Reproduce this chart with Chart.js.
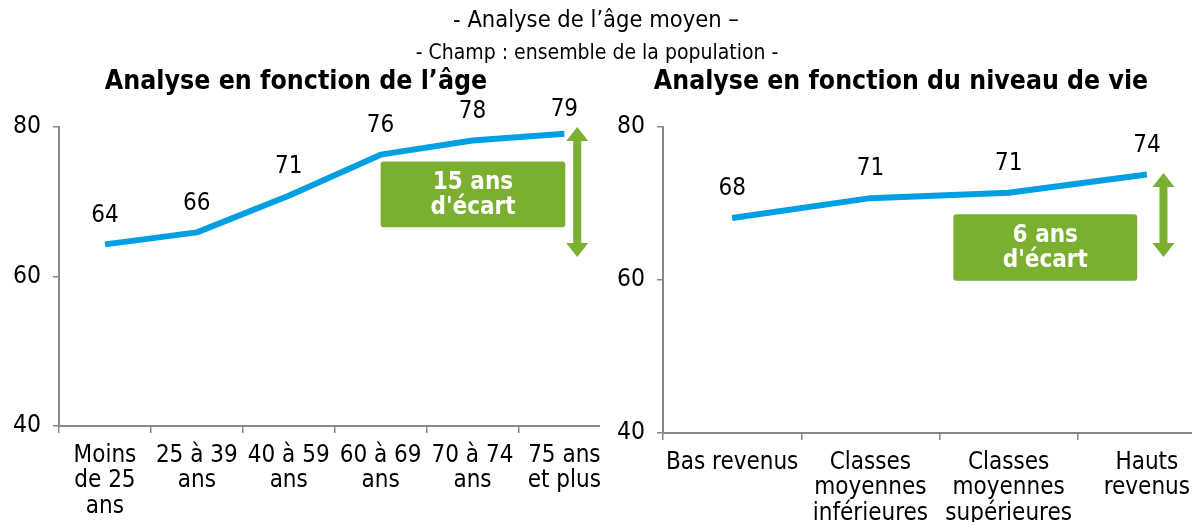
<!DOCTYPE html>
<html><head><meta charset="utf-8">
<script src="https://cdn.jsdelivr.net/npm/chart.js@4.4.0/dist/chart.umd.min.js"></script>
<style>
html,body{margin:0;padding:0;background:#fff;width:1192px;height:522px;overflow:hidden;font-family:"DejaVu Sans Condensed","DejaVu Sans",sans-serif;font-stretch:condensed;}
.t{position:absolute;white-space:nowrap;transform:translate(-50%,-50%);color:#000;z-index:2;line-height:1;}
.wrap{position:absolute;top:0;height:522px;overflow:hidden;}
canvas{display:block;}
</style></head><body>
<div class="t" style="left:596px;top:20px;font-size:23.5px">- Analyse de l’âge moyen –</div>
<div class="t" style="left:597px;top:52px;font-size:21px">- Champ : ensemble de la population -</div>
<div class="t" style="left:296px;top:80px;font-size:26.5px;font-weight:bold">Analyse en fonction de l’âge</div>
<div class="t" style="left:901px;top:80px;font-size:26.4px;font-weight:bold">Analyse en fonction du niveau de vie</div>
<div class="wrap" style="left:0;width:600px"><canvas id="c1" width="611" height="522" style="width:611px;height:522px"></canvas></div>
<div class="wrap" style="left:600px;width:592px"><canvas id="c2" width="616" height="522" style="width:616px;height:522px"></canvas></div>
<script>
// ---- data ----
const ageCategories = [["Moins","de 25","ans"],["25 à 39","ans"],["40 à 59","ans"],["60 à 69","ans"],["70 à 74","ans"],["75 ans","et plus"]];
const ageValues = [64.3, 65.9, 70.8, 76.3, 78.2, 79.1];
const incomeCategories = [["Bas revenus"],["Classes","moyennes","inférieures"],["Classes","moyennes","supérieures"],["Hauts","revenus"]];
const incomeValues = [68.1, 70.7, 71.4, 73.8];
const yTicks = [40, 60, 80];
const ageGapLabel = ["15 ans", "d'écart"];
const incomeGapLabel = ["6 ans", "d'écart"];

// ---- annotation placement (in data units) ----
const ageAnnot = {arrowX: 5.14, arrowFrom: 80.0, arrowTo: 62.6, boxX0: 3.0, boxX1: 5.01, boxY0: 75.4, boxY1: 66.6, text: ageGapLabel};
const incomeAnnot = {arrowX: 3.12, arrowFrom: 74.0, arrowTo: 63.0, boxX0: 1.6, boxX1: 2.93, boxY0: 68.6, boxY1: 59.9, text: incomeGapLabel};

const FONT = "'DejaVu Sans Condensed', 'DejaVu Sans', sans-serif";
const GREEN = '#7aaf30';

const valueLabels = {
  id: 'valueLabels',
  afterDatasetsDraw(chart) {
    const ctx = chart.ctx, ds = chart.data.datasets[0], meta = chart.getDatasetMeta(0);
    ctx.save();
    ctx.font = '24px ' + FONT;
    ctx.fillStyle = '#000';
    ctx.textAlign = 'center';
    ctx.textBaseline = 'middle';
    const minY = chart.chartArea.top - 17;
    meta.data.forEach((p, i) => ctx.fillText(String(Math.round(ds.data[i])), p.x, Math.max(p.y - 29, minY)));
    ctx.restore();
  }
};

function annotPlugin(a) {
  return {
    id: 'gapAnnot',
    afterDatasetsDraw(chart) {
      const ctx = chart.ctx, xs = chart.scales.x, ys = chart.scales.y;
      ctx.save();
      const bx0 = xs.getPixelForValue(a.boxX0), bx1 = xs.getPixelForValue(a.boxX1);
      const by0 = ys.getPixelForValue(a.boxY0), by1 = ys.getPixelForValue(a.boxY1);
      ctx.fillStyle = GREEN;
      ctx.beginPath();
      ctx.roundRect(bx0, by0, bx1 - bx0, by1 - by0, 3);
      ctx.fill();
      ctx.fillStyle = '#fff';
      ctx.font = 'bold 24px ' + FONT;
      ctx.textAlign = 'center';
      ctx.textBaseline = 'middle';
      const cx = (bx0 + bx1) / 2, cy = (by0 + by1) / 2;
      ctx.fillText(a.text[0], cx, cy - 12);
      ctx.fillText(a.text[1], cx, cy + 13);
      const x = xs.getPixelForValue(a.arrowX);
      const t = ys.getPixelForValue(a.arrowFrom), b = ys.getPixelForValue(a.arrowTo);
      const hh = 14, hw = 11, sw = 4;
      ctx.fillStyle = GREEN;
      ctx.beginPath();
      ctx.moveTo(x, t);
      ctx.lineTo(x + hw, t + hh);
      ctx.lineTo(x + sw, t + hh);
      ctx.lineTo(x + sw, b - hh);
      ctx.lineTo(x + hw, b - hh);
      ctx.lineTo(x, b);
      ctx.lineTo(x - hw, b - hh);
      ctx.lineTo(x - sw, b - hh);
      ctx.lineTo(x - sw, t + hh);
      ctx.lineTo(x - hw, t + hh);
      ctx.closePath();
      ctx.fill();
      ctx.restore();
    }
  };
}

function makeChart(id, cats, vals, cfg, annot) {
  return new Chart(document.getElementById(id), {
    type: 'line',
    data: {labels: cats, datasets: [{data: vals, borderColor: '#009fe3', borderWidth: 6, pointRadius: 0, pointHoverRadius: 0, tension: 0, fill: false, borderCapStyle: 'butt', borderJoinStyle: 'round'}]},
    options: {
      responsive: false, animation: false, devicePixelRatio: 1,
      layout: {padding: {top: cfg.top, right: 0, left: 0, bottom: 0}},
      plugins: {legend: {display: false}, tooltip: {enabled: false}, title: {display: false}},
      scales: {
        x: {
          offset: true,
          grid: {offset: true, drawOnChartArea: false, drawTicks: true, tickLength: 7, color: '#888', lineWidth: 1.5},
          border: {color: '#888', width: 2},
          ticks: {color: '#000', font: {family: FONT, size: 24, lineHeight: 1.06}, autoSkip: false, maxRotation: 0, minRotation: 0, padding: 10},
          afterFit: s => { s.height = cfg.xh; }
        },
        y: {
          min: yTicks[0], max: yTicks[yTicks.length - 1],
          afterBuildTicks: s => { s.ticks = yTicks.map(v => ({value: v})); },
          grid: {drawOnChartArea: false, drawTicks: true, tickLength: 6, color: '#888', lineWidth: 1.5},
          border: {color: '#888', width: 2},
          ticks: {color: '#000', font: {family: FONT, size: 24.5}, padding: 12},
          afterFit: s => { s.width = cfg.yw; }
        }
      }
    },
    plugins: [valueLabels, annotPlugin(annot)]
  });
}

makeChart('c1', ageCategories, ageValues, {top: 127, xh: 96, yw: 59}, ageAnnot);
makeChart('c2', incomeCategories, incomeValues, {top: 127, xh: 89, yw: 63}, incomeAnnot);
</script>
</body></html>
